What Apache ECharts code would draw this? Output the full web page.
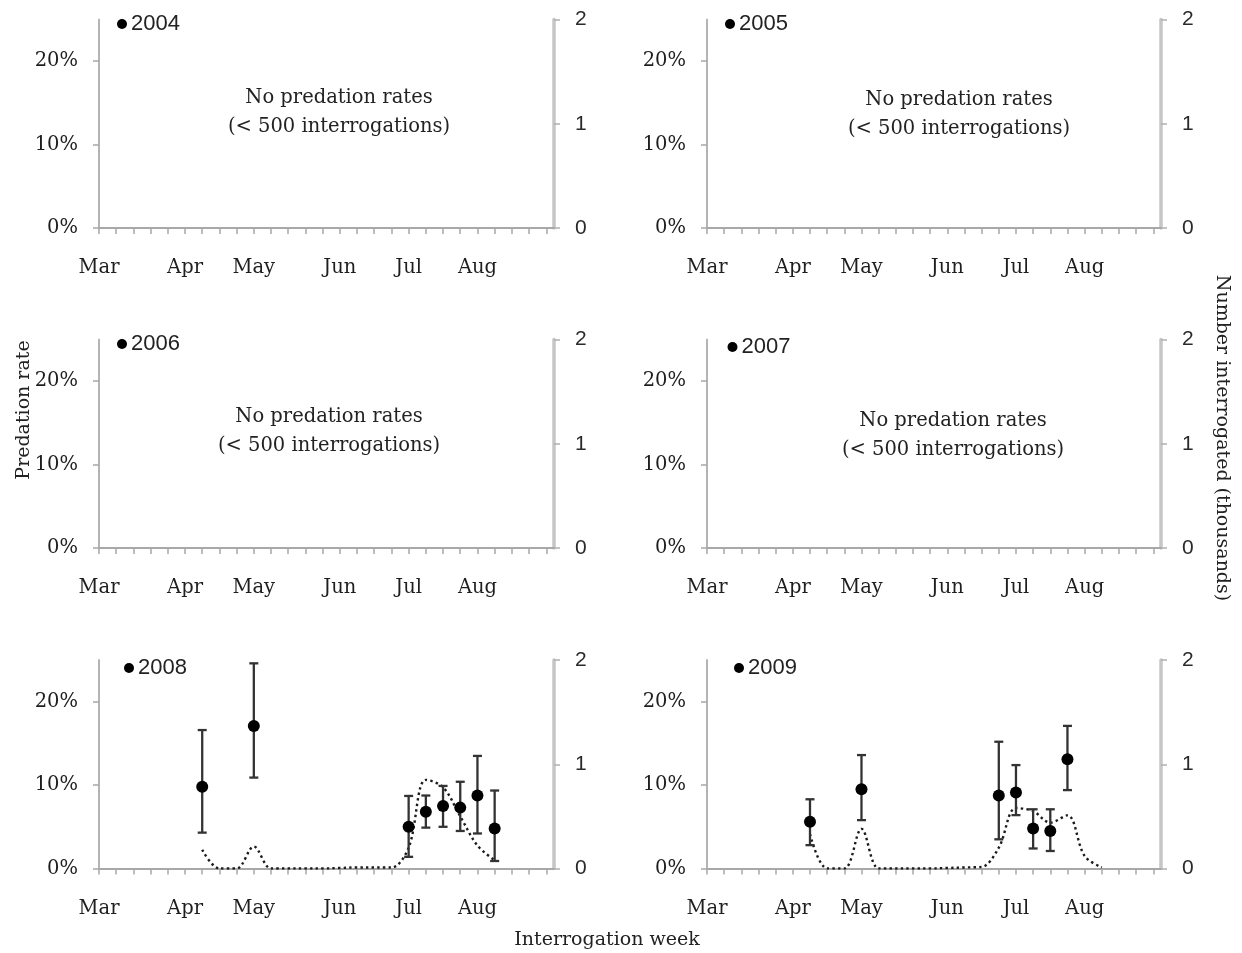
<!DOCTYPE html>
<html><head><meta charset="utf-8">
<script src="https://cdn.jsdelivr.net/npm/echarts@6/dist/echarts.min.js"></script>
<style>html,body{margin:0;padding:0;background:#fff}#c{width:1242px;height:953px}</style>
</head><body><div id="c"></div>
<script>
// ---------- data ----------
const years = ['2004', '2005', '2006', '2007', '2008', '2009'];
const monthLabels = ['Mar', 'Apr', 'May', 'Jun', 'Jul', 'Aug'];
const monthWeeks = [0, 5, 9, 14, 18, 22];
const weekTicks = [0,1,2,3,4,5,6,7,8,9,10,11,12,13,14,15,16,17,18,19,20,21,22,23,24,25,26];
const leftTicks = [0, 10, 20];
const noDataText = 'No predation rates\n(< 500 interrogations)';

const rateWeeks2008 = [6, 9, 18, 19, 20, 21, 22, 23];
const rate2008      = [9.8, 17.1, 5.0, 6.8, 7.5, 7.3, 8.75, 4.8];
const rateLow2008   = [4.3, 10.9, 1.4, 4.9, 5.0, 4.5, 4.2, 0.9];
const rateHigh2008  = [16.6, 24.6, 8.7, 8.75, 9.9, 10.4, 13.5, 9.35];

const rateWeeks2009 = [6, 9, 17, 18, 19, 20, 21];
const rate2009      = [5.6, 9.5, 8.75, 9.1, 4.8, 4.5, 13.1];
const rateLow2009   = [2.8, 5.8, 3.5, 6.4, 2.4, 2.1, 9.4];
const rateHigh2009  = [8.3, 13.6, 15.2, 12.4, 7.1, 7.1, 17.1];

const countWeeks = [6,7,8,9,10,11,12,13,14,15,16,17,18,19,20,21,22,23];
const count2008  = [0.18,0,0,0.21,0,0,0,0,0.005,0.01,0.01,0.01,0.2,0.85,0.78,0.5,0.22,0.08];
const count2009  = [0.33,0,0,0.38,0,0,0,0,0.005,0.01,0.015,0.2,0.58,0.55,0.44,0.51,0.12,0.01];

// ---------- layout ----------
const colLeft = [99, 707];
const colWidth = [455, 454];
const rowTop = [19.5, 339.5, 660];
const gridHeight = 208.5;
const legendPos = [[117, 13], [725, 13], [117, 333], [727.5, 336], [124, 657], [734, 657]];
const notePos = [[339, 112], [959, 114], [329, 431], [953, 435]];

const SERIF = 'DejaVu Serif';
const SANS = 'Liberation Sans';

const grids = [], xAxes = [], yAxes = [], series = [], legends = [], graphics = [];

const rateSets = {
  '2008': [rateWeeks2008, rate2008, rateLow2008, rateHigh2008, count2008],
  '2009': [rateWeeks2009, rate2009, rateLow2009, rateHigh2009, count2009]
};

years.forEach((yr, i) => {
  const col = i % 2, row = Math.floor(i / 2);
  grids.push({ left: colLeft[col], top: rowTop[row], width: colWidth[col], height: gridHeight });
  xAxes.push({
    type: 'value', gridIndex: i, min: 0, max: 26.45, interval: 1,
    axisLine: { show: true, onZero: false, lineStyle: { color: '#a8a8a8', width: 2 } },
    axisTick: { show: true, customValues: weekTicks, length: 6, lineStyle: { color: '#a8a8a8', width: 1.5 } },
    axisLabel: {
      customValues: monthWeeks, margin: 30, fontFamily: SERIF, fontSize: 19.5, color: '#1e1e1e',
      formatter: v => { const k = monthWeeks.indexOf(Math.round(v)); return k >= 0 && Math.abs(v - Math.round(v)) < 1e-6 ? monthLabels[k] : ''; }
    },
    splitLine: { show: false }
  });
  yAxes.push({
    type: 'value', gridIndex: i, position: 'left', min: 0, max: 25, interval: 10,
    axisLine: { show: true, lineStyle: { color: '#b4b4b4', width: 2 } },
    axisTick: { show: true, customValues: leftTicks, length: 6, lineStyle: { color: '#a8a8a8', width: 1.5 } },
    axisLabel: { customValues: leftTicks, formatter: '{value}%', margin: 21, fontFamily: SERIF, fontSize: 19.5, color: '#1e1e1e' },
    splitLine: { show: false }
  });
  yAxes.push({
    type: 'value', gridIndex: i, position: 'right', min: 0, max: 2, interval: 1,
    axisLine: { show: true, lineStyle: { color: '#c6c6c6', width: 3.5 } },
    axisTick: { show: true, length: 6, lineStyle: { color: '#b0b0b0', width: 1.5 } },
    axisLabel: { margin: 21, fontFamily: SANS, fontSize: 21, color: '#2a2a2a' },
    splitLine: { show: false }
  });
  legends.push({
    data: [yr], left: legendPos[i][0], top: legendPos[i][1], padding: 0,
    icon: 'circle', itemWidth: 10, itemHeight: 10, itemGap: 4,
    itemStyle: { color: '#000', opacity: 1 },
    textStyle: { fontFamily: SANS, fontSize: 22, color: '#222', padding: [0, 0, 0, -1] }
  });

  const set = rateSets[yr];
  if (set) {
    const [wk, rt, lo, hi, cnt] = set;
    series.push({
      type: 'line', xAxisIndex: i, yAxisIndex: 2 * i + 1, name: 'count' + yr,
      data: countWeeks.map((w, k) => [w, cnt[k]]),
      smooth: 0.35, showSymbol: false, symbol: 'none', z: 1,
      lineStyle: { color: '#1a1a1a', width: 2.4, type: [2.4, 3.2] }
    });
    series.push({
      type: 'custom', xAxisIndex: i, yAxisIndex: 2 * i, name: 'err' + yr, z: 2,
      data: wk.map((w, k) => [w, lo[k], hi[k]]),
      encode: { x: 0, y: [1, 2] },
      renderItem: (params, api) => {
        const x = api.value(0);
        const p1 = api.coord([x, api.value(2)]);
        const p2 = api.coord([x, api.value(1)]);
        const w = 4.5;
        const st = { stroke: '#333', lineWidth: 2.3 };
        return { type: 'group', children: [
          { type: 'line', shape: { x1: p1[0], y1: p1[1], x2: p2[0], y2: p2[1] }, style: st },
          { type: 'line', shape: { x1: p1[0] - w, y1: p1[1], x2: p1[0] + w, y2: p1[1] }, style: st },
          { type: 'line', shape: { x1: p2[0] - w, y1: p2[1], x2: p2[0] + w, y2: p2[1] }, style: st }
        ] };
      }
    });
    series.push({
      type: 'scatter', xAxisIndex: i, yAxisIndex: 2 * i, name: yr, z: 3,
      data: wk.map((w, k) => [w, rt[k]]), symbol: 'circle', symbolSize: 12,
      itemStyle: { color: '#000', opacity: 1 }
    });
  } else {
    series.push({
      type: 'scatter', xAxisIndex: i, yAxisIndex: 2 * i, name: yr, data: [],
      symbol: 'circle', itemStyle: { color: '#000', opacity: 1 }
    });
    graphics.push({
      type: 'text', x: notePos[i][0], y: notePos[i][1],
      style: { text: noDataText, align: 'center', verticalAlign: 'middle', fontFamily: SERIF, fontSize: 19.5, lineHeight: 29, fill: '#222' }
    });
  }
});

graphics.push({ type: 'text', x: 24, y: 410, rotation: Math.PI / 2,
  style: { text: 'Predation rate', align: 'center', verticalAlign: 'middle', fontFamily: SERIF, fontSize: 19, fill: '#222' } });
graphics.push({ type: 'text', x: 1222, y: 438, rotation: -Math.PI / 2,
  style: { text: 'Number interrogated (thousands)', align: 'center', verticalAlign: 'middle', fontFamily: SERIF, fontSize: 19, fill: '#222' } });
graphics.push({ type: 'text', x: 607, y: 940,
  style: { text: 'Interrogation week', align: 'center', verticalAlign: 'middle', fontFamily: SERIF, fontSize: 19, fill: '#222' } });

const chart = echarts.init(document.getElementById('c'), null, { renderer: 'canvas' });
chart.setOption({
  animation: false,
  backgroundColor: '#fff',
  grid: grids, xAxis: xAxes, yAxis: yAxes, series: series, legend: legends,
  graphic: graphics
});
</script></body></html>
